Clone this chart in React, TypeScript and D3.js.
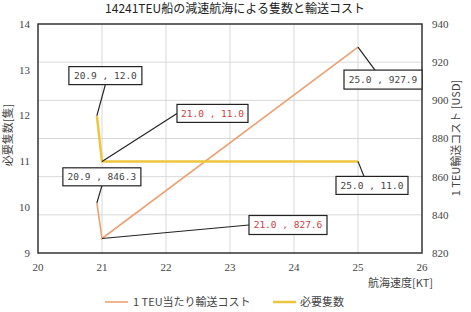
import React from "react";
import * as d3 from "d3";

const speeds = [20.92, 21, 25];
const costs = [846.3, 827.6, 927.9];
const ships = [12.0, 11.0, 11.0];
const xTicks = [20, 21, 22, 23, 24, 25, 26];
const leftTicks = [9, 10, 11, 12, 13, 14];
const rightTicks = [820, 840, 860, 880, 900, 920, 940];
const title = "14241TEU船の減速航海による隻数と輸送コスト";
const leftTitle = "必要隻数[隻]";
const rightTitle = "1 TEU輸送コスト [USD]";
const xTitle = "航海速度[KT]";
const legendNames = ["1 TEU当たり輸送コスト", "必要隻数"];

const W = 471, H = 312;
const L = 38, R = 422, T = 24, B = 253;
const ORANGE = "#EDA071";
const YELLOW = "#EEC53F";
const TXT = "#444";
const FONT = "'Noto Sans CJK JP', 'DejaVu Sans', sans-serif";
const MONO = "'DejaVu Sans Mono', monospace";

// annotation boxes: [seriesKey, index, dx, dy (box top-left rel. to point), w, h, anchor side, red]
const annots: [string, number, number, number, number, number, string, boolean][] = [
  ["ship", 0, -28, -49, 73, 18, "bottom", false],
  ["ship", 1, 75, -57, 71, 18, "left", true],
  ["cost", 0, -34, -35, 78, 18, "bottom", false],
  ["cost", 1, 147, -23, 78, 19, "left", true],
  ["cost", 2, -14, 23, 78, 19, "top", false],
  ["ship", 2, -22, 15, 72, 18, "top", false],
];

export default function App() {
  const x = d3.scaleLinear().domain([20, 26]).range([L, R]);
  const yL = d3.scaleLinear().domain([9, 14]).range([B, T]);
  const yR = d3.scaleLinear().domain([820, 940]).range([B, T]);
  const f1 = d3.format(".1f");

  const costLine = d3.line<number>().x((_, i) => x(speeds[i])).y((d) => yR(d))(costs) || "";
  const shipLine = d3.line<number>().x((_, i) => x(speeds[i])).y((d) => yL(d))(ships) || "";

  return (
    <svg width={W} height={H} style={{ position: "absolute", left: 0, top: 0 }} fontFamily={FONT}>
      <rect width={W} height={H} fill="#fff" />
      <text x={235} y={13} textAnchor="middle" fontSize={12} fill="#222">{title}</text>
      {/* grid */}
      {xTicks.slice(1, -1).map((t) => (
        <line key={"gx" + t} x1={x(t)} x2={x(t)} y1={T} y2={B} stroke="#d9d9d9" strokeWidth={1} />
      ))}
      {rightTicks.slice(1, -1).map((t) => (
        <line key={"gy" + t} x1={L} x2={R} y1={yR(t)} y2={yR(t)} stroke="#d9d9d9" strokeWidth={1} />
      ))}
      {/* frame */}
      <rect x={L} y={T} width={R - L} height={B - T} fill="none" stroke="#333" strokeWidth={1.5} />
      {/* ticks */}
      {leftTicks.map((t) => (
        <text key={"l" + t} x={30} y={yL(t)} dy="0.35em" textAnchor="end" fontSize={11} fill={TXT} fontFamily="'Liberation Serif', serif">{t}</text>
      ))}
      {rightTicks.map((t) => (
        <text key={"r" + t} x={432} y={yR(t)} dy="0.35em" textAnchor="start" fontSize={11} fill={TXT} fontFamily="'Liberation Serif', serif">{t}</text>
      ))}
      {xTicks.map((t) => (
        <text key={"x" + t} x={x(t)} y={267} dy="0.35em" textAnchor="middle" fontSize={11} fill={TXT} fontFamily="'Liberation Serif', serif">{t}</text>
      ))}
      <text transform={`translate(12,135) rotate(-90)`} textAnchor="middle" fontSize={11} fill={TXT}>{leftTitle}</text>
      <text transform={`translate(460,138) rotate(-90)`} textAnchor="middle" fontSize={11} fill={TXT}>{rightTitle}</text>
      <text x={433} y={287} textAnchor="end" fontSize={11} fill={TXT}>{xTitle}</text>
      {/* series */}
      <path d={costLine} fill="none" stroke={ORANGE} strokeWidth={1.6} />
      <path d={shipLine} fill="none" stroke={YELLOW} strokeWidth={2.5} />
      {/* annotations */}
      {annots.map(([key, i, dx, dy, w, h, side, red], k) => {
        const px = x(speeds[i]);
        const py = key === "cost" ? yR(costs[i]) : yL(ships[i]);
        const bx = px + dx, by = py + dy;
        let ax = bx + w / 2, ay = by + h;
        if (side === "left") { ax = bx; ay = by + h / 2; }
        if (side === "top") { ax = bx + w / 2 - 8; ay = by; }
        if (side === "bottom") { ax = bx + w / 2; ay = by + h; }
        const val = key === "cost" ? costs[i] : ships[i];
        return (
          <g key={"a" + k}>
            <line x1={px} y1={py} x2={ax} y2={ay} stroke="#222" strokeWidth={1.2} />
            <rect x={bx} y={by} width={w} height={h} fill="#fff" stroke="#222" strokeWidth={1.2} />
            <text x={bx + w / 2} y={by + h / 2} dy="0.35em" textAnchor="middle" fontSize={9.5} fontFamily={MONO} fill={red ? "#d04040" : TXT}>
              {`${f1(speeds[i])} , ${f1(val)}`}
            </text>
          </g>
        );
      })}
      {/* legend */}
      <line x1={105} x2={128} y1={302} y2={302} stroke={ORANGE} strokeWidth={1.6} />
      <text x={133} y={302} dy="0.35em" fontSize={11} fill={TXT}>{legendNames[0]}</text>
      <line x1={273} x2={296} y1={302} y2={302} stroke={YELLOW} strokeWidth={2.5} />
      <text x={300} y={302} dy="0.35em" fontSize={11} fill={TXT}>{legendNames[1]}</text>
    </svg>
  );
}
